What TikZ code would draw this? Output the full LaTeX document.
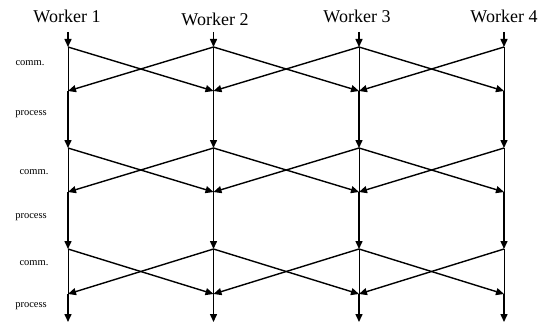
\documentclass[tikz,border=0pt]{standalone}
\usepackage{fontspec}
\setmainfont{Liberation Serif}
\usetikzlibrary{arrows.meta}
\begin{document}
\begin{tikzpicture}[x=1pt,y=-1pt,
  tip/.style={-{Triangle[length=8pt,width=7pt]}},
  procline/.style={tip, line width=1.5pt},
  commline/.style={line width=1pt},
  diag/.style={tip, line width=1.4pt},
  worker/.style={font=\fontsize{18}{20}\selectfont, inner sep=0pt},
  phase/.style={font=\fontsize{10.5}{12}\selectfont, inner sep=0pt}]
\useasboundingbox (0,0) rectangle (545,326);
% worker labels
\node[worker] (wl1) at (67,16) {Worker 1};
\node[worker] (wl2) at (215,19) {Worker 2};
\node[worker] (wl3) at (357,16) {Worker 3};
\node[worker] (wl4) at (504,16) {Worker 4};
% phase labels
\node[phase] (c1) at (30,63) {comm.};
\node[phase] (p1) at (31,114) {process};
\node[phase] (c2) at (34,172) {comm.};
\node[phase] (p2) at (31,217) {process};
\node[phase] (c3) at (34,263) {comm.};
\node[phase] (p3) at (31,306) {process};
% coordinates
\foreach \i/\x in {1/68,2/213.5,3/359,4/504} {
  \coordinate (s\i) at (\x,32);
  \coordinate (a1\i) at (\x,47);
  \coordinate (b1\i) at (\x,91);
  \coordinate (a2\i) at (\x,148);
  \coordinate (b2\i) at (\x,192);
  \coordinate (a3\i) at (\x,249);
  \coordinate (b3\i) at (\x,294);
  \coordinate (e\i) at (\x,322);
}
% vertical lines
\foreach \i in {1,...,4} {
  \draw[procline] (s\i) -- (a1\i);
  \draw[commline] (a1\i) -- (b1\i);
  \draw[procline] (b1\i) -- (a2\i);
  \draw[commline] (a2\i) -- (b2\i);
  \draw[procline] (b2\i) -- (a3\i);
  \draw[commline] (a3\i) -- (b3\i);
  \draw[procline] (b3\i) -- (e\i);
}
% communication arrows
\foreach \k in {1,2,3} {
  \draw[diag] (a\k1) -- (b\k2);
  \draw[diag] (a\k2) -- (b\k1);
  \draw[diag] (a\k2) -- (b\k3);
  \draw[diag] (a\k3) -- (b\k2);
  \draw[diag] (a\k3) -- (b\k4);
  \draw[diag] (a\k4) -- (b\k3);
}
\end{tikzpicture}
\end{document}
